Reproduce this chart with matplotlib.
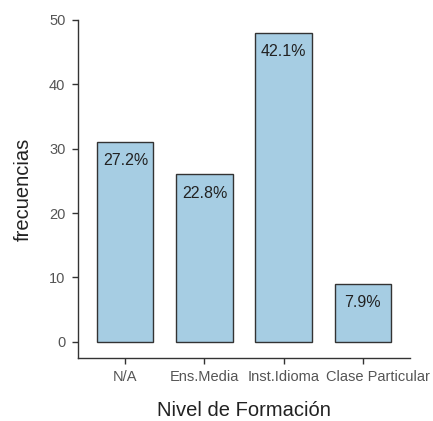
import matplotlib.pyplot as plt
import matplotlib.transforms as mtransforms

plt.rcParams['font.family'] = ['Liberation Sans', 'DejaVu Sans']

# datos
categorias = ['N/A', 'Ens.Media', 'Inst.Idioma', 'Clase Particular']
frecuencias = [31, 26, 48, 9]
porcentajes = ['27.2%', '22.8%', '42.1%', '7.9%']

fig = plt.figure(figsize=(4.33, 4.21), dpi=100)
ax = fig.add_axes([0.180, 0.150, 0.767, 0.8025])

x = range(len(categorias))
bars = ax.bar(x, frecuencias, width=0.71, color='#a6cde3', edgecolor='#333333', linewidth=1.0)

# etiquetas de porcentaje dentro de la barra
for b, p in zip(bars, porcentajes):
    ax.annotate(p, (b.get_x() + b.get_width() / 2, b.get_height()),
                xytext=(0, -8), textcoords='offset points',
                ha='center', va='top', fontsize=11.5, color='#222222')

ax.set_xlim(-0.6, 3.6)
ax.set_ylim(-2.5, 50)
ax.set_xticks(list(x))
ax.set_xticklabels(categorias)
ax.set_yticks([0, 10, 20, 30, 40, 50])

for s in ['top', 'right']:
    ax.spines[s].set_visible(False)
for s in ['left', 'bottom']:
    ax.spines[s].set_color('#333333')
    ax.spines[s].set_linewidth(1.0)

ax.tick_params(axis='both', direction='out', length=4, width=1, color='#333333',
               labelcolor='#555555', labelsize=10.5)
ax.tick_params(axis='x', pad=5)
ax.tick_params(axis='y', pad=5)

# la última etiqueta va corrida a la derecha como en el original
ultima = ax.get_xticklabels()[-1]
ultima.set_transform(ultima.get_transform() +
                     mtransforms.ScaledTranslation(0.15, 0, fig.dpi_scale_trans))

ax.set_xlabel('Nivel de Formación', fontsize=14.5, color='#222222', labelpad=12)
ax.set_ylabel('frecuencias', fontsize=14.5, color='#222222', labelpad=12)

plt.savefig('out.png', dpi=100)
